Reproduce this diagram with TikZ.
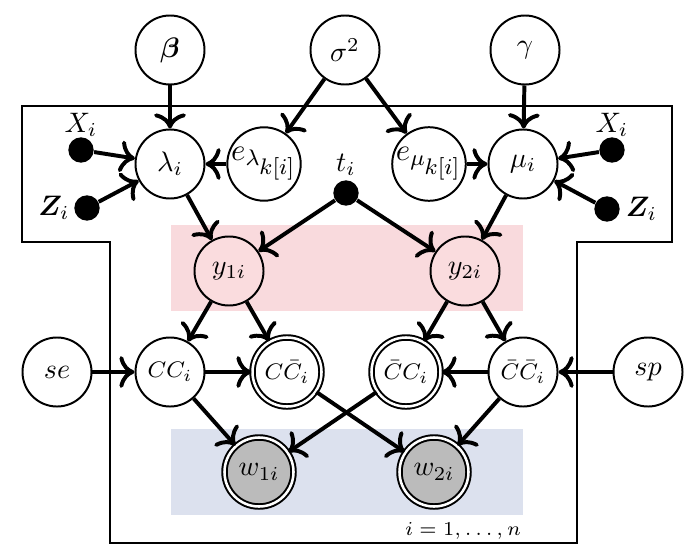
\documentclass[tikz,border=0pt]{standalone}
\usepackage{amsmath,bm}
\usepackage{xcolor}
\definecolor{pinkband}{HTML}{F9DADD}
\definecolor{blueband}{HTML}{DCE1EE}
\definecolor{pinknode}{HTML}{FADCDE}
\definecolor{obsgray}{HTML}{BBBBBB}
\usetikzlibrary{arrows.meta,positioning}

\begin{document}
\begin{tikzpicture}[x=0.355pt, y=-0.355pt,
    latent/.style={circle, draw, line width=0.7pt, fill=white, minimum size=24.5pt, inner sep=0pt},
    dbl/.style={latent, double, double distance=0.9pt},
    dot/.style={circle, fill, minimum size=9pt, inner sep=0pt},
    edge/.style={-{To[scale=1.15]}, line width=1.4pt}]
        \useasboundingbox (0,0) rectangle (690,559);
        % bands behind the nodes
        \fill[pinkband] (171,225) rectangle (523,311);
        \fill[blueband] (171,429) rectangle (523,515);
        % plate
        \draw[line width=0.75pt] (22,106) -- (672,106) -- (672,242) -- (577,242) -- (577,543)
            -- (110,543) -- (110,242) -- (22,242) -- cycle;
        \node[font=\fontsize{7.5pt}{9pt}\selectfont] (plab) at (463,531) {$i=1,\ldots,n$};
        % hyperparameters
        \node[latent] (beta) at (170,50) {$\bm{\beta}$};
        \node[latent] (sigma) at (345,50) {$\sigma^2$};
        \node[latent] (gamma) at (525,50) {$\gamma$};
        % rates
        \node[latent] (lam) at (170,164) {$\lambda_i$};
        \node[latent, font=\fontsize{11pt}{13pt}\selectfont] (elam) at (264,164) {$e_{\lambda_{\scriptstyle k[i]}}$};
        \node[latent, font=\fontsize{11pt}{13pt}\selectfont] (emu) at (429,164) {$e_{\mu_{\scriptstyle k[i]}}$};
        \node[latent] (mu) at (523,164) {$\mu_i$};
        \node[dot, label={[label distance=-3.5pt]above:$X_i$}] (xl) at (81,150) {};
        \node[dot, label={[label distance=-2pt]left:$\bm{Z}_i$}] (zl) at (87,208) {};
        \node[dot, label={[label distance=-3.5pt]above:$X_i$}] (xr) at (612,150) {};
        \node[dot, label={[label distance=-1.5pt]right:$\bm{Z}_i$}] (zr) at (607,209) {};
        \node[dot, label={[label distance=-2pt]above:$t_i$}] (t) at (346,193) {};
        % counts
        \node[latent, fill=pinknode] (y1) at (229,271) {$y_{1i}$};
        \node[latent, fill=pinknode] (y2) at (465,271) {$y_{2i}$};
        % classifications
        \node[latent] (se) at (57,372) {$se$};
        \node[latent, font=\footnotesize] (cc) at (170,372) {$CC_i$};
        \node[dbl, font=\footnotesize] (ccb) at (287,372) {$C\bar{C}_i$};
        \node[dbl, font=\footnotesize] (cbc) at (406,372) {$\bar{C}C_i$};
        \node[latent, font=\footnotesize] (cbcb) at (523,372) {$\bar{C}\bar{C}_i$};
        \node[latent] (sp) at (648,372) {$sp$};
        % observed
        \node[dbl, fill=obsgray] (w1) at (259,472) {$w_{1i}$};
        \node[dbl, fill=obsgray] (w2) at (434,472) {$w_{2i}$};
        % edges
        \draw[edge] (beta) -- (lam);
        \draw[edge] (sigma) -- (elam);
        \draw[edge] (sigma) -- (emu);
        \draw[edge] (gamma) -- (mu);
        \draw[edge] (xl) -- (lam);
        \draw[edge] (zl) -- (lam);
        \draw[edge] (elam) -- (lam);
        \draw[edge] (emu) -- (mu);
        \draw[edge] (xr) -- (mu);
        \draw[edge] (zr) -- (mu);
        \draw[edge] (lam) -- (y1);
        \draw[edge] (t) -- (y1);
        \draw[edge] (t) -- (y2);
        \draw[edge] (mu) -- (y2);
        \draw[edge] (y1) -- (cc);
        \draw[edge] (y1) -- (ccb);
        \draw[edge] (y2) -- (cbc);
        \draw[edge] (y2) -- (cbcb);
        \draw[edge] (se) -- (cc);
        \draw[edge] (cc) -- (ccb);
        \draw[edge] (cbcb) -- (cbc);
        \draw[edge] (sp) -- (cbcb);
        \draw[edge] (cc) -- (w1);
        \draw[edge] (cbc) -- (w1);
        \draw[edge] (ccb) -- (w2);
        \draw[edge] (cbcb) -- (w2);
      \end{tikzpicture}
\end{document}
